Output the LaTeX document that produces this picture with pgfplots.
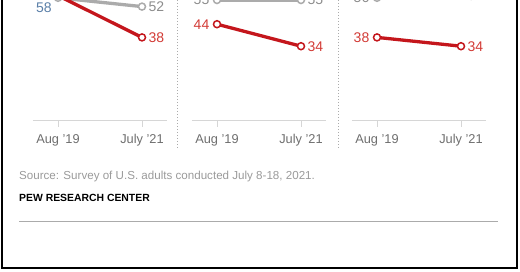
\documentclass[border=0pt]{standalone}
\usepackage{pgfplots}
\pgfplotsset{compat=1.18}
\usepackage{fontspec}
\setmainfont{Liberation Sans}
\definecolor{pewred}{HTML}{C4161C}
\definecolor{labred}{HTML}{D23A35}
\definecolor{lgray}{HTML}{ABABAB}
\definecolor{labgray}{HTML}{8C8C8C}
\definecolor{labblue}{HTML}{5A7FA8}
\definecolor{axgray}{HTML}{D6D6D6}
\definecolor{ticklab}{HTML}{6E6E6E}
\definecolor{srcgray}{HTML}{9A9A9A}
\pgfplotsset{
  panel/.style={
    scale only axis, width=134.4pt, height=121pt,
    xmin=-0.3, xmax=1.3, ymin=0, ymax=55,
    anchor=south west, clip=false,
    axis x line*=bottom, axis y line=none,
    xtick={0,1}, xticklabels={Aug '19, July '21},
    x axis line style={draw=axgray, line width=1pt},
    xtick style={draw=axgray, line width=1pt},
    tick align=outside, major tick length=6pt,
    xticklabel style={font=\fontsize{12.8}{14}\selectfont, text=ticklab},
    xticklabel shift=4pt,
  },
  redl/.style={pewred, line width=3.3pt, mark=*, mark size=3.5pt, mark options={solid, fill=white, draw=pewred, line width=1.5pt}},
  grayl/.style={lgray, line width=3.3pt, mark=*, mark size=3.5pt, mark options={solid, fill=white, draw=lgray, line width=1.5pt}},
}
\tikzset{vlab/.style={font=\fontsize{14}{16}\selectfont, inner sep=0pt}}
\begin{document}
\begin{tikzpicture}[x=1pt,y=1pt]
\useasboundingbox (0,0) rectangle (520,272);
\clip (0,0) rectangle (520,272);
% panel 1
\begin{axis}[panel, at={(32.8pt,151pt)}]
\addplot[grayl] coordinates {(0,56) (1,52)};
\addplot[redl] coordinates {(0,57) (1,38)};
\node[vlab, anchor=west, text=labgray] at (axis cs:1,52) {\hspace*{6.5pt}52};
\node[vlab, anchor=west, text=labred] at (axis cs:1,38) {\hspace*{6.5pt}38};
\node[vlab, text=labblue] at (axis cs:-0.167,51.4) {58};
\end{axis}
% panel 2
\begin{axis}[panel, at={(191.8pt,151pt)}]
\addplot[grayl] coordinates {(0,55) (1,55)};
\addplot[redl] coordinates {(0,44) (1,34)};
\node[vlab, anchor=east, text=labgray] at (axis cs:0,55) {55\hspace*{7.5pt}};
\node[vlab, anchor=west, text=labgray] at (axis cs:1,55) {\hspace*{6.5pt}55};
\node[vlab, anchor=east, text=labred] at (axis cs:0,44) {44\hspace*{7.5pt}};
\node[vlab, anchor=west, text=labred] at (axis cs:1,34) {\hspace*{6.5pt}34};
\end{axis}
% panel 3
\begin{axis}[panel, at={(351.8pt,151pt)}]
\addplot[grayl] coordinates {(0,56) (1,57)};
\addplot[redl] coordinates {(0,38) (1,34)};
\node[vlab, anchor=east, text=labgray] at (axis cs:0,56) {56\hspace*{7.5pt}};
\node[vlab, anchor=west, text=labgray] at (axis cs:1,57) {\hspace*{6.5pt}57};
\node[vlab, anchor=east, text=labred] at (axis cs:0,38) {38\hspace*{7.5pt}};
\node[vlab, anchor=west, text=labred] at (axis cs:1,34) {\hspace*{6.5pt}34};
\end{axis}
% separators
\draw[lgray, line width=1pt, dash pattern=on 1pt off 2pt] (177,272) -- (177,124);
\draw[lgray, line width=1pt, dash pattern=on 1pt off 2pt] (338,272) -- (338,124);
% footer
\node[anchor=base west, inner sep=0pt, text=srcgray, font=\fontsize{11.6}{13}\selectfont] at (19,92) {Source: Survey of U.S. adults conducted July 8-18, 2021.};
\node[anchor=base west, inner sep=0pt, font=\fontsize{10.4}{12}\selectfont\bfseries] at (19,70.5) {PEW RESEARCH CENTER};
\draw[lgray, line width=1pt] (19,50) -- (498,50);
% border
\draw[black, line width=2.5pt] (2,280) -- (2,4) -- (517,4) -- (517,280);
\end{tikzpicture}
\end{document}
